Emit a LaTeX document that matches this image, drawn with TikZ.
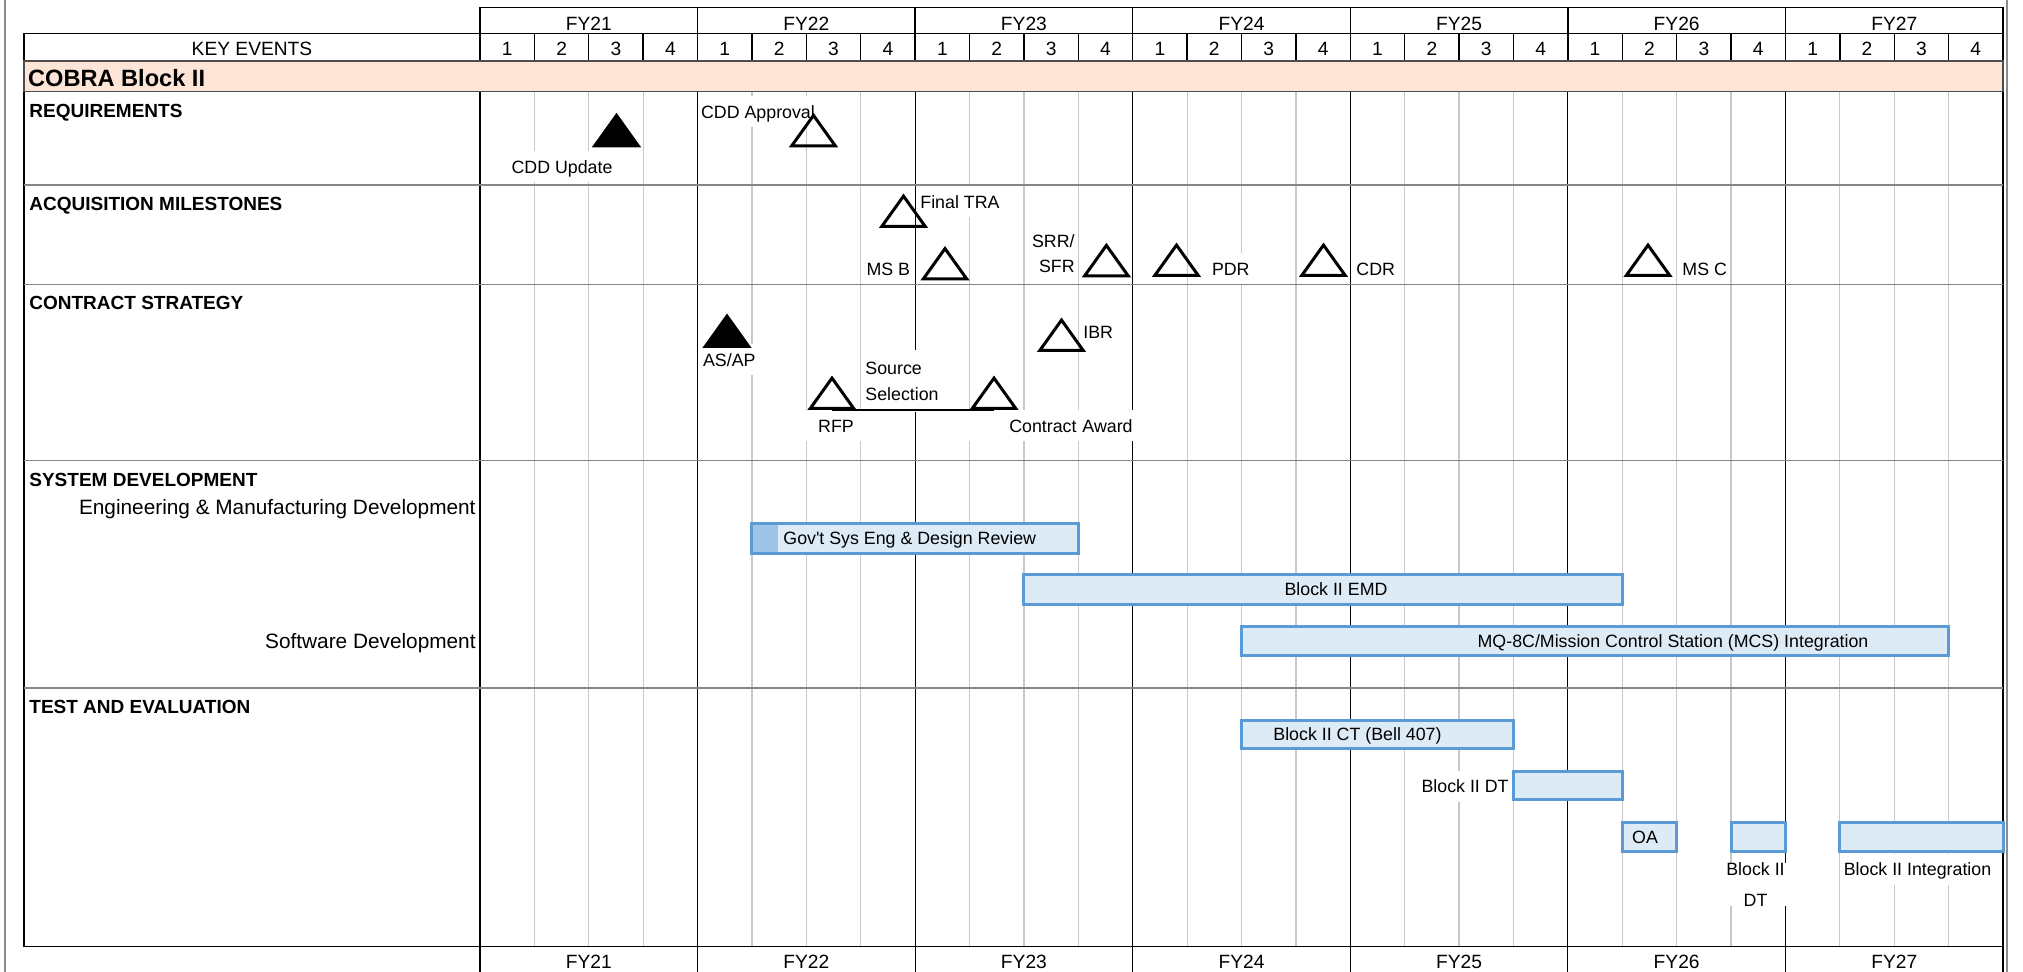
\documentclass[tikz,border=0pt]{standalone}
\usepackage{fontspec}
\setmainfont{Liberation Sans}[Ligatures=TeXOff]
\usetikzlibrary{fit}
\definecolor{peach}{HTML}{FCE4D6}
\definecolor{barfill}{HTML}{DDEBF7}
\definecolor{barline}{HTML}{5B9BD5}
\definecolor{bardark}{HTML}{9DC3E6}
\definecolor{qgray}{HTML}{C8C8C8}
\definecolor{secgray}{HTML}{858585}
\definecolor{framegray}{HTML}{8C8C8C}
\begin{document}
\begin{tikzpicture}[x=0.5pt,y=-0.5pt,
  qline/.style={draw=qgray, line width=0.6pt},
  fyline/.style={draw=black, line width=0.6pt},
  hdrline/.style={draw=black, line width=0.7pt},
  secline/.style={draw=secgray, line width=0.7pt},
  framel/.style={draw=framegray, line width=1pt},
  hdr/.style={font=\fontsize{9.6}{11}\selectfont, text height=6.9pt, text depth=0pt, inner sep=0pt},
  sec/.style={font=\bfseries\fontsize{9.5}{11}\selectfont, text height=6.8pt, text depth=0pt, inner sep=0pt, anchor=west},
  sub/.style={font=\fontsize{10.4}{12}\selectfont, text height=7.4pt, text depth=0pt, inner sep=0pt, anchor=east},
  ev/.style={font=\fontsize{8.9}{11}\selectfont, text height=6.4pt, text depth=0pt, inner xsep=1pt, inner ysep=0pt},
  evw/.style={ev, fill=white, minimum height=15.5pt},
  evm/.style={font=\fontsize{8.9}{#1}\selectfont, inner xsep=1pt, inner ysep=0pt, fill=white},
  bar/.style={draw=barline, fill=barfill, line width=1.5pt, inner sep=0pt},
  msline/.style={draw=black, line width=1.5pt, line join=miter},
  conn/.style={draw=black, line width=0.75pt},
  ms/.pic={\path[msline, pic actions] (-21.75,0) -- (0,-30.4) -- (21.75,0) -- cycle; \coordinate (-c) at (0,0);},
]
\useasboundingbox (0,0) rectangle (2023,972);
\def\qw{54.393}

% outer frame
\draw[framel] (5,0) -- (5,972);
\draw[framel] (2007,0) -- (2007,972);

% body grid
\foreach \k in {1,...,27} \draw[qline] ({480+\k*\qw},91.7) -- ({480+\k*\qw},946.7);
\foreach \k in {4,8,...,24} \draw[fyline] ({480+\k*\qw},91.7) -- ({480+\k*\qw},972);
\draw[fyline] (480,7.5) -- (480,972);
\draw[fyline] (2003,7.5) -- (2003,972);
\draw[fyline] (24,33.5) -- (24,946.7);
\foreach \y in {185,284.3,460.7,688} \draw[secline] (24,\y) -- (2003,\y);
\draw[fyline] (24,946.7) -- (2003,946.7);

% header grid
\draw[hdrline] (480,7.5) -- (2003,7.5);
\foreach \k in {4,8,...,24} \draw[hdrline] ({480+\k*\qw},7.5) -- ({480+\k*\qw},33.5);
\draw[hdrline] (24,33.5) -- (2003,33.5);
\foreach \k in {1,...,27} \draw[hdrline] ({480+\k*\qw},33.5) -- ({480+\k*\qw},61);
\node[fit={(24,61) (2003,91.7)}, inner sep=0pt, fill=peach, draw=black!70, line width=0.7pt] (cobrarow) {};

% header text
\node[hdr] (keyev) at (252,48.3) {KEY EVENTS};
\foreach \i/\fy in {0/21,1/22,2/23,3/24,4/25,5/26,6/27} {
  \node[hdr] (fyt\fy) at ({480+(4*\i+2)*\qw},24) {FY\fy};
  \node[hdr] (fyb\fy) at ({480+(4*\i+2)*\qw},961.5) {FY\fy};
}
\foreach \k in {0,...,27} {
  \pgfmathtruncatemacro\q{mod(\k,4)+1}
  \node[hdr] (q\k) at ({480+(\k+0.5)*\qw},48.3) {\q};
}
\node[font=\bfseries\fontsize{11.8}{13}\selectfont, text height=8.5pt, text depth=0pt, inner sep=0pt, anchor=west] (cobra) at (27.7,78.3) {COBRA Block II};

% section labels
\node[sec] (req) at (29,111) {REQUIREMENTS};
\node[sec] (acq) at (29,204) {ACQUISITION MILESTONES};
\node[sec] (con) at (29,303) {CONTRACT STRATEGY};
\node[sec] (sys) at (29,479.3) {SYSTEM DEVELOPMENT};
\node[sec] (tande) at (29,707) {TEST AND EVALUATION};
\node[sub] (emdl) at (476,507) {Engineering \& Manufacturing Development};
\node[sub] (swl) at (476,641) {Software Development};

% event labels (white text boxes)
\node[evw] (tCddU) at (562,167) {CDD Update};
\node[evw, anchor=west] (tCddA) at (698.7,111.7) {CDD Approval};
\node[evw, anchor=west] (tFtra) at (918,202) {Final TRA};
\node[evw, anchor=east] (tMsb) at (912.5,269) {MS B};
\node[evm=12.5pt, align=right, anchor=east] (tSrr) at (1077,253.5) {SRR/\\SFR};
\node[evw, anchor=west] (tPdr) at (1209.6,269) {PDR};
\node[evw, anchor=west] (tCdr) at (1354,269) {CDR};
\node[evw, anchor=west] (tMsc) at (1680,269) {MS C};
\node[evw, anchor=west] (tAsap) at (700.7,360) {AS/AP};
\node[evw, anchor=west] (tIbr) at (1081,332) {IBR};
\node[evm=13.25pt, align=left, anchor=west, minimum height=31pt] (tSrc) at (863,381.5) {Source\\Selection};
\node[evw, minimum width=34pt] (tRfp) at (836,426) {RFP};
\node[evw, anchor=east, text width=83pt, align=right] (tCa) at (1135,426) {Contract Award};
\node[evw, anchor=east] (tDt) at (1511,786.5) {Block II DT};
\node[evm=15.5pt, align=center] (tDt2) at (1755.5,884.5) {Block II\\DT};
\node[evw] (tInt) at (1917.5,869) {Block II Integration};

% bars
\node[bar, fit={({480+5*\qw},523.5) ({480+11*\qw},553.5)},
  path picture={\fill[bardark] (path picture bounding box.north west) rectangle ([xshift=13.2pt]path picture bounding box.south west);}] (gov) {};
\node[bar, fit={({480+10*\qw},574.5) ({480+21*\qw},604.5)}] (emd) {};
\node[bar, fit={({480+14*\qw},626.5) ({480+27*\qw},655.5)}] (mq) {};
\node[bar, fit={({480+14*\qw},720.5) ({480+19*\qw},748.5)}] (ct) {};
\node[bar, fit={({480+19*\qw},771.5) ({480+21*\qw},799.5)}] (dt) {};
\node[bar, fit={({480+21*\qw},822.5) ({480+22*\qw},851)}] (oa) {};
\node[bar, fit={({480+23*\qw},822.5) ({480+24*\qw},851)}] (dt2) {};
\node[bar, fit={({480+25*\qw},822.5) ({480+28*\qw},851)}] (integ) {};

% bar labels
\node[ev, anchor=west] (tGov) at (781,538.5) {Gov't Sys Eng \& Design Review};
\node[ev] (tEmd) at (1336,589.5) {Block II EMD};
\node[ev] (tMq) at (1673,641) {MQ-8C/Mission Control Station (MCS) Integration};
\node[ev, anchor=west] (tCt) at (1271,734.5) {Block II CT (Bell 407)};
\node[ev] (tOa) at (1645,837) {OA};

% milestone triangles
\pic[fill=black] (cddU) at (616.5,145.8) {ms};
\pic (cddA) at (813.5,145.8) {ms};
\pic (ftra) at (903.5,226.5) {ms};
\pic (msb) at (945,279) {ms};
\pic (srr) at (1106.4,275.8) {ms};
\pic (pdr) at (1176.5,275.5) {ms};
\pic (cdr) at (1323.5,275.5) {ms};
\pic (msc) at (1648,275.5) {ms};
\pic[fill=black] (asap) at (727,346.5) {ms};
\pic (ibr) at (1061.5,350.5) {ms};
\pic (rfp) at (832,408.5) {ms};
\pic (ca) at (994,408.5) {ms};

% source selection span
\draw[conn] ([yshift=-0.75pt]rfp-c) -- ([yshift=-0.75pt]ca-c);
\end{tikzpicture}
\end{document}
